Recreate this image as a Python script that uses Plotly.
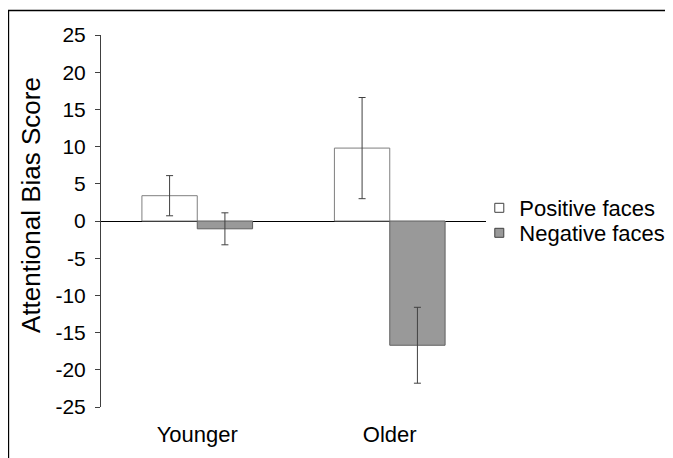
import plotly.graph_objects as go

groups = ["Younger", "Older"]
series_names = ["Positive faces", "Negative faces"]
positive_vals = [3.4, 9.8]
positive_err = [2.7, 6.8]
negative_vals = [-1.05, -16.7]
negative_err = [2.15, 5.1]
y_ticks = [25, 20, 15, 10, 5, 0, -5, -10, -15, -20, -25]
y_tick_text = [str(v) for v in y_ticks]
y_title = "Attentional Bias Score"

# page body has an 8px margin, so figure coords = screen coords - 8
W, H = 665, 450
ML, MT = 93, 27
PR, PB = 477.7, 399
MR, MB = W - PR, H - PB
font_family = "Liberation Sans, Arial, Helvetica, sans-serif"

pw = PR - ML
ph = PB - MT
def px_x(p):
    return (p - ML) / pw
def px_y(p):
    return (PB - p) / ph

fig = go.Figure()
fig.add_trace(go.Bar(
    x=groups, y=positive_vals, name=series_names[0], showlegend=False,
    marker=dict(color="white", line=dict(color="#7f7f7f", width=1)),
    error_y=dict(type="data", array=positive_err, visible=True,
                 color="#404040", thickness=1, width=3.5),
))
fig.add_trace(go.Bar(
    x=groups, y=negative_vals, name=series_names[1], showlegend=False,
    marker=dict(color="#999999", line=dict(color="#606060", width=1)),
    error_y=dict(type="data", array=negative_err, visible=True,
                 color="#404040", thickness=1, width=3.5),
))
# legend entries with small square symbols like the reference
fig.add_trace(go.Scatter(
    x=[None], y=[None], mode="markers", name=series_names[0], legend="legend",
    marker=dict(symbol="square", size=9, color="white",
                line=dict(color="#404040", width=1)),
))
fig.add_trace(go.Scatter(
    x=[None], y=[None], mode="markers", name=series_names[1], legend="legend2",
    marker=dict(symbol="square", size=9, color="#999999",
                line=dict(color="#404040", width=1)),
))

shapes = [
    dict(type="line", xref="paper", yref="paper",
         x0=px_x(0), x1=px_x(W), y0=px_y(2.5), y1=px_y(2.5),
         line=dict(color="black", width=1.5)),
    dict(type="line", xref="paper", yref="paper",
         x0=px_x(0.5), x1=px_x(0.5), y0=px_y(2.5), y1=px_y(H),
         line=dict(color="black", width=1.5)),
]

annotations = [
    dict(text=y_title, xref="paper", yref="paper", x=px_x(23), y=px_y(197),
         textangle=-90, showarrow=False, xanchor="center", yanchor="middle",
         font=dict(size=26)),
]

legend_common = dict(xanchor="left", yanchor="middle", font=dict(size=22),
                     itemwidth=30, bgcolor="rgba(0,0,0,0)")

fig.update_layout(
    width=W, height=H,
    margin=dict(l=ML, r=MR, t=MT, b=MB, pad=0, autoexpand=False),
    paper_bgcolor="white", plot_bgcolor="white",
    barmode="group", bargap=0.425, bargroupgap=0,
    font=dict(family=font_family, size=22, color="black"),
    showlegend=True,
    legend=dict(x=px_x(471), y=px_y(200), **legend_common),
    legend2=dict(x=px_x(471), y=px_y(225), **legend_common),
    shapes=shapes,
    annotations=annotations,
    xaxis=dict(range=[-0.5, 1.5], showline=False, ticks="", showgrid=False,
               zeroline=False, tickfont=dict(size=22), ticklabelstandoff=12),
    yaxis=dict(range=[-25, 25], tickvals=y_ticks, ticktext=y_tick_text,
               showline=True, linecolor="#404040", linewidth=1,
               ticks="outside", ticklen=5, tickcolor="#404040",
               showgrid=False, zeroline=True,
               zerolinecolor="black", zerolinewidth=1,
               tickfont=dict(size=21), ticklabelstandoff=5),
)

fig.write_html("out.html")
